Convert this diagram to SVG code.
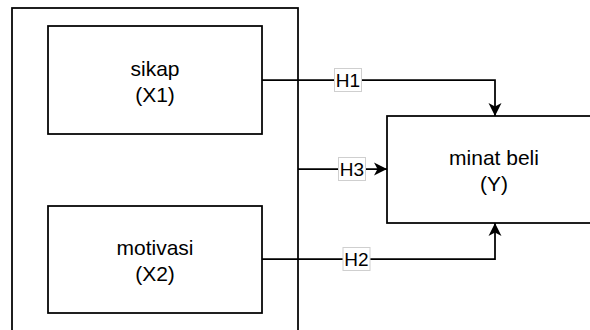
<svg xmlns="http://www.w3.org/2000/svg" width="590" height="330" viewBox="0 0 590 330">
<style>
.box{fill:#fff;stroke:#000;stroke-width:1.75}
.outer{fill:none;stroke:#000;stroke-width:1.75}
.t{font-family:"Liberation Sans",Arial,Helvetica,sans-serif;font-size:21px;fill:#000;text-anchor:middle}
.edge{fill:none;stroke:#000;stroke-width:1.75}
.lbg{fill:#fff;stroke:#cfcfcf;stroke-width:1}
.lt{font-family:"Liberation Sans",Arial,Helvetica,sans-serif;font-size:19px;fill:#000;text-anchor:middle}
</style>
<defs>
<marker id="arr" viewBox="0 0 14 14" refX="13" refY="7" markerWidth="14" markerHeight="14" markerUnits="userSpaceOnUse" orient="auto">
<path d="M0,0.5 L13,7 L0,13.5 L3.5,7 Z" fill="#000"/>
</marker>
</defs>
<rect width="590" height="330" fill="#fff"/>
<g id="group-outer">
<rect class="outer" x="12" y="8" width="286" height="340"/>
</g>
<g id="node-x1">
<rect class="box" x="48" y="26" width="214" height="108"/>
<text class="t" x="155" y="76">sikap</text>
<text class="t" x="155" y="102">(X1)</text>
</g>
<g id="node-x2">
<rect class="box" x="48" y="206" width="214" height="107"/>
<text class="t" x="155" y="255">motivasi</text>
<text class="t" x="155" y="281">(X2)</text>
</g>
<g id="node-y">
<rect class="box" x="387" y="116" width="216" height="107"/>
<text class="t" x="494" y="165">minat beli</text>
<text class="t" x="494" y="191">(Y)</text>
</g>
<g id="connectors">
<path class="edge" d="M262,80 H495 V116" marker-end="url(#arr)"/>
<path class="edge" d="M262,259 H495 V223" marker-end="url(#arr)"/>
<path class="edge" d="M298,169 H387" marker-end="url(#arr)"/>
<g id="label-h1">
<rect class="lbg" x="334.5" y="68.5" width="27" height="23"/>
<text class="lt" x="348" y="87">H1</text>
</g>
<g id="label-h3">
<rect class="lbg" x="338.5" y="157.5" width="27" height="23"/>
<text class="lt" x="352" y="176">H3</text>
</g>
<g id="label-h2">
<rect class="lbg" x="343" y="247.5" width="27" height="23"/>
<text class="lt" x="356.5" y="266">H2</text>
</g>
</g>
</svg>
